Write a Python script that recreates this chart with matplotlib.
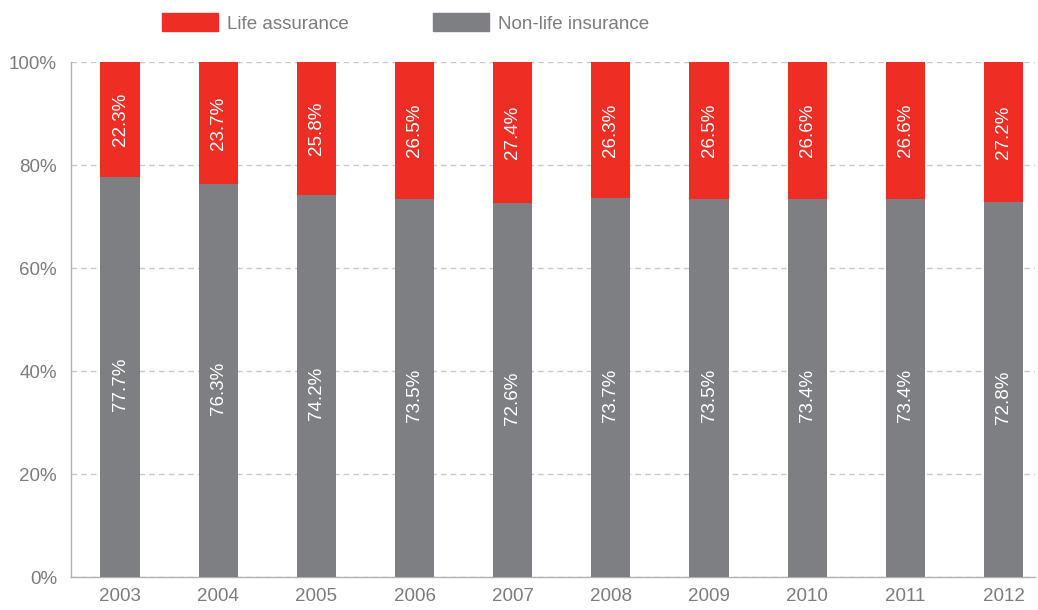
import matplotlib.pyplot as plt
from matplotlib.patches import Patch

plt.rcParams['font.family'] = ['Liberation Sans', 'DejaVu Sans']

years = ["2003", "2004", "2005", "2006", "2007", "2008", "2009", "2010", "2011", "2012"]
non_life = [77.7, 76.3, 74.2, 73.5, 72.6, 73.7, 73.5, 73.4, 73.4, 72.8]
life = [22.3, 23.7, 25.8, 26.5, 27.4, 26.3, 26.5, 26.6, 26.6, 27.2]

RED = "#ee2e24"
GREY = "#7e7f83"
TXT = "#7c7c7c"

fig = plt.figure(figsize=(10.38, 6.10), dpi=100)
ax = fig.add_axes([0.0684, 0.054, 0.9286, 0.844])

x = range(len(years))
ax.bar(x, non_life, width=0.4, color=GREY, zorder=3)
ax.bar(x, life, width=0.4, bottom=non_life, color=RED, zorder=3)

for i in x:
    ax.text(i, non_life[i] / 2 - 1.5, f"{non_life[i]:.1f}%", rotation=90, color="white",
            ha="center", va="center", fontsize=13.5, zorder=4)
    ax.text(i, non_life[i] + life[i] / 2, f"{life[i]:.1f}%", rotation=90, color="white",
            ha="center", va="center", fontsize=13.5, zorder=4)

ax.set_xlim(-0.5, 9.32)
ax.set_ylim(0, 100)
ax.set_yticks([0, 20, 40, 60, 80, 100])
ax.set_yticklabels(["0%", "20%", "40%", "60%", "80%", "100%"])
ax.set_xticks(list(x))
ax.set_xticklabels(years)
ax.tick_params(length=0, colors=TXT, labelsize=13.5)
ax.tick_params(axis="y", pad=10)
ax.tick_params(axis="x", pad=8)

ax.yaxis.grid(True, linestyle=(0, (4, 3)), color="#c8c8c8", linewidth=1, zorder=0)
for s in ["top", "right"]:
    ax.spines[s].set_visible(False)
for s in ["left", "bottom"]:
    ax.spines[s].set_color("#b0b0b0")
    ax.spines[s].set_linewidth(1)

handles = [Patch(color=RED, label="Life assurance"), Patch(color=GREY, label="Non-life insurance")]
leg = fig.legend(handles=handles, loc="center left", bbox_to_anchor=(0.140, 0.962), ncol=2,
                 frameon=False, fontsize=13.5, handlelength=3.0, handleheight=1.1,
                 handletextpad=0.45, columnspacing=4.5)
for t in leg.get_texts():
    t.set_color(TXT)

fig.savefig("out.png", dpi=100)
